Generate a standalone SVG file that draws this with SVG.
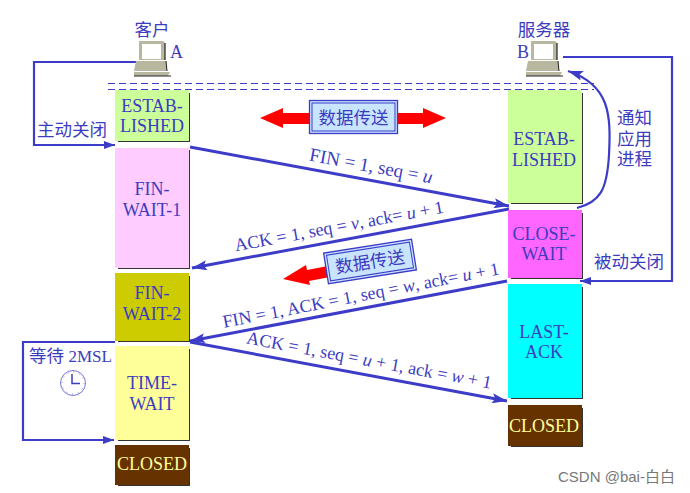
<svg xmlns="http://www.w3.org/2000/svg" width="690" height="493" viewBox="0 0 690 493">
<style>
text{font-family:"Liberation Serif","Noto Sans CJK SC",serif;fill:#3c3cc0;font-size:18px}
.c{text-anchor:middle}
.z{font-family:"Noto Sans CJK SC","Liberation Sans",sans-serif;font-size:17.500px}
.s{fill:#333}
.f{fill:none;stroke:#3c3cc8;stroke-width:2.200}
.t{fill:none;stroke:#3c3cc8;stroke-width:3}
.d{fill:none;stroke:#3c3cc8;stroke-width:1;stroke-dasharray:7 4}
.pc{fill:#b8b8a0}
</style>
<defs>
<marker id="a" markerUnits="userSpaceOnUse" markerWidth="16" markerHeight="10" refX="15" refY="5" orient="auto"><path d="M0 0L15 5L0 10L3 5Z" fill="#3c3cc8"/></marker>
<marker id="b" markerUnits="userSpaceOnUse" markerWidth="12" markerHeight="8" refX="11" refY="4" orient="auto"><path d="M0 0L11 4L0 8Z" fill="#3c3cc8"/></marker>
<g id="pc"><path class="pc" d="M139 41h24l2 2v17h-26z"/><rect x="142" y="44" width="19" height="15" fill="#fff"/><path d="M165 43v17" stroke="#222" stroke-width="1.200"/><path class="pc" d="M136 61h30l1 10h-33z"/><path d="M166 61l1 10" stroke="#222"/><path class="pc" d="M134 72h36l-2 4h-34z"/><path d="M134 76h37" stroke="#222" stroke-width="1"/></g>
</defs>
<rect width="690" height="493" fill="#fff"/>
<g id="connectors">
<path class="d" d="M108 83.500H594M108 89.500H594"/>
<path class="f" d="M136 62H34V145H115" marker-end="url(#b)"/>
<path class="t" d="M190 147L509 206" marker-end="url(#a)"/>
<path class="t" d="M509 209L192 268" marker-end="url(#a)"/>
<path class="t" d="M507 281L190 341" marker-end="url(#a)"/>
<path class="t" d="M190 342L507 401" marker-end="url(#a)"/>
<path class="f" d="M577 208C600 202 607 190 609 155C611 115 610 85 568 71" marker-end="url(#a)"/>
<path class="f" d="M563 57H672V281H580" marker-end="url(#b)"/>
<path class="f" d="M115 342H23V440H114" marker-end="url(#b)"/>
</g>
<g id="client"><use href="#pc"/><text class="c z" x="152" y="36">客户</text><text x="170" y="58">A</text></g>
<g id="server"><use href="#pc" transform="translate(392 0)"/><text class="c z" x="544" y="36">服务器</text><text x="517" y="58">B</text></g>
<g id="a-established"><rect class="s" x="118" y="93" width="72" height="49"/><rect x="115" y="90" width="74" height="51" fill="#ccff99"/><text class="c" x="152" y="112">ESTAB-</text><text class="c" x="152" y="132">LISHED</text></g>
<g id="a-fin-wait-1"><rect class="s" x="118" y="150" width="72" height="119"/><rect x="115" y="148" width="74" height="120" fill="#ffccff"/><text class="c" x="152" y="195">FIN-</text><text class="c" x="152" y="216">WAIT-1</text></g>
<g id="a-fin-wait-2"><rect class="s" x="118" y="276" width="72" height="66"/><rect x="115" y="273" width="74" height="68" fill="#cccc00"/><text class="c" x="152" y="299">FIN-</text><text class="c" x="152" y="320">WAIT-2</text></g>
<g id="a-time-wait"><rect class="s" x="118" y="349" width="72" height="92"/><rect x="115" y="346" width="74" height="94" fill="#ffff99"/><text class="c" x="152" y="389">TIME-</text><text class="c" x="152" y="410">WAIT</text></g>
<g id="a-closed"><rect class="s" x="118" y="448" width="72" height="38"/><rect x="115" y="445" width="74" height="40" fill="#663300"/><text class="c" x="152" y="470" style="fill:#ffff99">CLOSED</text></g>
<g id="b-established"><rect class="s" x="511" y="93" width="72" height="111"/><rect x="508" y="90" width="74" height="113" fill="#ccff99"/><text class="c" x="544" y="145">ESTAB-</text><text class="c" x="544" y="166">LISHED</text></g>
<g id="b-close-wait"><rect class="s" x="511" y="213" width="72" height="66"/><rect x="508" y="210" width="74" height="68" fill="#ff66ff"/><text class="c" x="544" y="240">CLOSE-</text><text class="c" x="544" y="260">WAIT</text></g>
<g id="b-last-ack"><rect class="s" x="511" y="287" width="72" height="112"/><rect x="508" y="284" width="74" height="114" fill="#00ffff"/><text class="c" x="544" y="338">LAST-</text><text class="c" x="544" y="358">ACK</text></g>
<g id="b-closed"><rect class="s" x="511" y="408" width="72" height="39"/><rect x="508" y="405" width="74" height="41" fill="#663300"/><text class="c" x="544" y="432" style="fill:#ffff99">CLOSED</text></g>
<g id="transfer-top">
<path d="M260 118L283 108V113H312V124H283V128ZM446 118L423 108V113H394V124H423V128Z" fill="#f00"/>
<rect x="309.500" y="100.500" width="88" height="33" fill="#c8e4ff" stroke="#3c3cc8" stroke-width="1.300"/><rect x="312" y="103" width="83" height="28" fill="none" stroke="#3c3cc8" stroke-width="1"/>
<text class="c z" x="353.500" y="124">数据传送</text></g>
<g id="transfer-mid">
<path d="M283 279L306 265L307 270L328 266L330 277L309 281L310 285Z" fill="#f00"/>
<g transform="rotate(-9 370 261.500)"><rect x="325.500" y="246" width="89" height="31" fill="#c8e4ff" stroke="#3c3cc8" stroke-width="1.300"/><rect x="328" y="248.500" width="84" height="26" fill="none" stroke="#3c3cc8" stroke-width="1"/>
<text class="c z" x="370" y="268">数据传送</text></g></g>
<g id="labels">
<text class="z" x="37" y="136">主动关闭</text>
<text class="z"><tspan x="617" y="124">通知</tspan><tspan x="617" y="145">应用</tspan><tspan x="617" y="165">进程</tspan></text>
<text class="z" x="594" y="268">被动关闭</text>
<text x="29" y="362"><tspan class="z">等待</tspan> <tspan style="font-size:17px">2MSL</tspan></text>
<text class="c" style="font-size:19px" transform="translate(370 172) rotate(10.500)">FIN = 1, seq = <tspan font-style="italic">u</tspan></text>
<text class="c" transform="translate(340 232) rotate(-10.500)">ACK = 1, seq = <tspan font-style="italic">v</tspan>, ack= <tspan font-style="italic">u</tspan> + 1</text>
<text class="c" transform="translate(362 301) rotate(-11)">FIN = 1, ACK = 1, seq = <tspan font-style="italic">w</tspan>, ack= <tspan font-style="italic">u</tspan> + 1</text>
<text class="c" transform="translate(368 366) rotate(10.500)">ACK = 1, seq = <tspan font-style="italic">u</tspan> + 1, ack = <tspan font-style="italic">w</tspan> + 1</text>
<text x="558" y="482" style="font-family:'Liberation Sans',sans-serif;font-size:15px;fill:#777">CSDN @bai-<tspan style="font-family:'Noto Sans CJK SC',sans-serif">白白</tspan></text>
</g>
<g id="clock" fill="none" stroke="#3c3cc8"><circle cx="73" cy="383" r="12.500" stroke-width=".7"/><circle cx="73" cy="383" r="11" stroke-width=".8" stroke-dasharray=".8 4.960"/><path d="M72 374V383.500H80" stroke-width="1.500"/></g>
</svg>
